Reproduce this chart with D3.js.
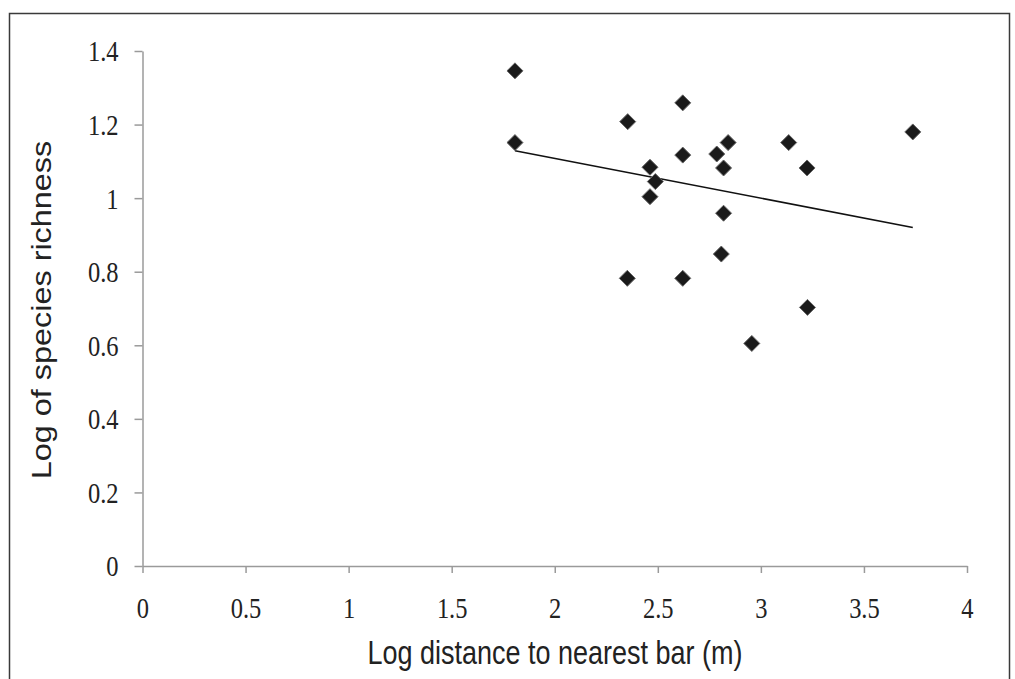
<!DOCTYPE html>
<html>
<head>
<meta charset="utf-8">
<script src="https://cdn.jsdelivr.net/npm/d3@7"></script>
<style>
  body { margin: 0; background: #fff; }
  .tick text { font-family: "Liberation Serif", "Times New Roman", serif; font-size: 24.5px; fill: #222; }
  .axis-title { font-family: "Liberation Sans", Arial, sans-serif; font-size: 27px; fill: #222; }
</style>
</head>
<body>
<svg id="chart" width="1015" height="679"></svg>
<script>
// distance (log m) and richness (log) for each site
var distance = [1.807, 1.807, 2.354, 2.621, 3.737, 2.841, 3.135, 2.621, 2.786, 2.819,
                2.462, 3.224, 2.488, 2.462, 2.819, 2.808, 2.352, 2.621, 3.226, 2.956];
var richness = [1.346, 1.151, 1.208, 1.259, 1.180, 1.151, 1.151, 1.117, 1.120, 1.082,
                1.084, 1.082, 1.045, 1.004, 0.959, 0.848, 0.782, 0.782, 0.703, 0.605];
// linear trend line
var trendSlope = -0.108;
var trendIntercept = 1.324;

var xTicks = [0, 0.5, 1, 1.5, 2, 2.5, 3, 3.5, 4];
var yTicks = [0, 0.2, 0.4, 0.6, 0.8, 1, 1.2, 1.4];

var svg = d3.select("#chart");
var vStretch = 1.2; // the original figure is a bit taller than wide

// outer frame
svg.append("rect")
  .attr("x", 9.5).attr("y", 13.5)
  .attr("width", 1000).attr("height", 700)
  .attr("fill", "none").attr("stroke", "#3a3a3a").attr("stroke-width", 1.5);

var x = d3.scaleLinear().domain([0, 4]).range([142.5, 967]);
var y = d3.scaleLinear().domain([0, 1.4]).range([566, 51]);

var fmt = function(d) { return String(d); };

var xAxis = svg.append("g")
  .attr("transform", "translate(0," + y(0) + ")")
  .call(d3.axisBottom(x).tickValues(xTicks).tickFormat(fmt).tickSize(7).tickSizeOuter(0));
var yAxis = svg.append("g")
  .attr("transform", "translate(" + x(0) + ",0)")
  .call(d3.axisLeft(y).tickValues(yTicks).tickFormat(fmt).tickSize(8).tickSizeOuter(0));

[xAxis, yAxis].forEach(function(g) {
  g.selectAll("path, line").attr("stroke", "#9a9a9a").attr("stroke-width", 1.5);
});
xAxis.selectAll(".tick text")
  .attr("y", null).attr("dy", null)
  .attr("transform", "translate(0,52) scale(1," + vStretch + ")");
yAxis.selectAll(".tick text")
  .attr("x", null).attr("dy", "0.34em")
  .attr("transform", "translate(-24,0) scale(1," + vStretch + ")");

// trend line over the range of the data
var xr = d3.extent(distance);
svg.append("line")
  .attr("x1", x(xr[0])).attr("y1", y(trendIntercept + trendSlope * xr[0]))
  .attr("x2", x(xr[1])).attr("y2", y(trendIntercept + trendSlope * xr[1]))
  .attr("stroke", "#111").attr("stroke-width", 1.6);

// diamond markers
var r = 8;
svg.append("g").selectAll("path")
  .data(d3.range(distance.length))
  .enter().append("path")
  .attr("d", "M0," + (-r) + "L" + r + ",0L0," + r + "L" + (-r) + ",0Z")
  .attr("transform", function(i) { return "translate(" + x(distance[i]) + "," + y(richness[i]) + ")"; })
  .attr("fill", "#1a1a1a")
  .attr("stroke", "#666").attr("stroke-width", 1);

// axis titles
svg.append("text").attr("class", "axis-title")
  .attr("transform", "translate(555,664) scale(1," + vStretch + ")")
  .attr("text-anchor", "middle")
  .text("Log distance to nearest bar (m)");

svg.append("text").attr("class", "axis-title")
  .attr("transform", "translate(51,310) rotate(-90) scale(" + vStretch + ",1)")
  .attr("text-anchor", "middle")
  .text("Log of species richness");
</script>
</body>
</html>
